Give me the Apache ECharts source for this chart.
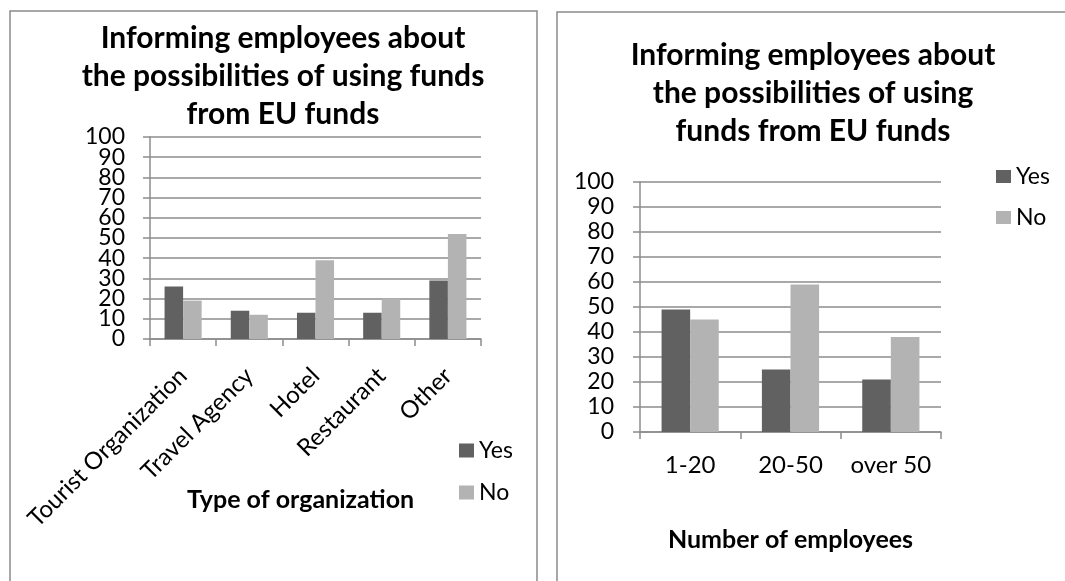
<!DOCTYPE html>
<html>
<head>
<meta charset="utf-8">
<script src="https://cdn.jsdelivr.net/npm/echarts@6/dist/echarts.min.js"></script>
<style>
html,body{margin:0;padding:0;background:#fff;}
#chart{width:1065px;height:581px;}
</style>
</head>
<body>
<div id="chart"></div>
<script>
// ---- data ----
const typeCategories = ['Tourist Organization', 'Travel Agency', 'Hotel', 'Restaurant', 'Other'];
const typeYes = [26, 14, 13, 13, 29];
const typeNo = [19, 12, 39, 20, 52];

const sizeCategories = ['1-20', '20-50', 'over 50'];
const sizeYes = [49, 25, 21];
const sizeNo = [45, 59, 38];

const seriesNames = ['Yes', 'No'];
const yMin = 0, yMax = 100, yStep = 10;

const titleLeft = 'Informing employees about\nthe possibilities of using funds\nfrom EU funds';
const titleRight = 'Informing employees about\nthe possibilities of using\nfunds from EU funds';
const xNameLeft = 'Type of organization';
const xNameRight = 'Number of employees';

// ---- styles ----
const FONT = 'Lato';
const GRID_COLOR = '#8c8c8c';
const YES_COLOR = '#616161';
const NO_COLOR = '#b3b3b3';

const labelText = { color: '#000', fontFamily: FONT, fontSize: 23 };

function yAxis(gridIndex, margin, formatter) {
  return {
    type: 'value', gridIndex, min: yMin, max: yMax, interval: yStep,
    axisLine: { show: true, lineStyle: { color: GRID_COLOR, width: 1.5 } },
    axisTick: { show: true, length: 7, lineStyle: { color: GRID_COLOR, width: 1.5 } },
    splitLine: { show: true, lineStyle: { color: GRID_COLOR, width: 1.5 } },
    axisLabel: Object.assign({ margin: margin, showMinLabel: true, showMaxLabel: true, hideOverlap: false,
      formatter: formatter }, labelText)
  };
}
// labels-only companion axis (left chart is tightly packed; split labels over two axes so none are dropped)
function yLabelAxis(gridIndex, margin, formatter) {
  return {
    type: 'value', gridIndex, min: yMin, max: yMax, interval: yStep, position: 'left',
    axisLine: { show: false }, axisTick: { show: false }, splitLine: { show: false },
    axisLabel: Object.assign({ margin: margin, showMinLabel: true, showMaxLabel: true, hideOverlap: false,
      formatter: formatter }, labelText)
  };
}
const evenTens = v => (v % (2 * yStep) === 0 ? String(v) : '');
const oddTens = v => (v % (2 * yStep) !== 0 ? String(v) : '');

const chart = echarts.init(document.getElementById('chart'), null, { renderer: 'canvas' });
chart.setOption({
  backgroundColor: '#fff',
  animation: false,
  textStyle: { fontFamily: FONT },
  graphic: [
    { type: 'rect', shape: { x: 10, y: 11, width: 527, height: 620 }, style: { fill: 'none', stroke: '#8a8a8a', lineWidth: 1.5 } },
    { type: 'rect', shape: { x: 557, y: 12, width: 560, height: 620 }, style: { fill: 'none', stroke: '#8a8a8a', lineWidth: 1.5 } }
  ],
  title: [
    { text: titleLeft, left: 278, top: 14, textAlign: 'center',
      textStyle: { fontFamily: FONT, fontWeight: 'bold', fontSize: 30, lineHeight: 38, color: '#000' } },
    { text: titleRight, left: 808, top: 31, textAlign: 'center',
      textStyle: { fontFamily: FONT, fontWeight: 'bold', fontSize: 30, lineHeight: 38, color: '#000' } }
  ],
  legend: [
    { data: seriesNames, orient: 'vertical', left: 454, top: 434, itemWidth: 15, itemHeight: 14, itemGap: 19,
      textStyle: { fontFamily: FONT, fontSize: 23, color: '#000' }, icon: 'rect' },
    { data: seriesNames, orient: 'vertical', left: 991, top: 160, itemWidth: 15, itemHeight: 13, itemGap: 18,
      textStyle: { fontFamily: FONT, fontSize: 23, color: '#000' }, icon: 'rect' }
  ],
  grid: [
    { left: 150, top: 137, width: 331, height: 202 },
    { left: 640, top: 182, width: 301, height: 250 }
  ],
  xAxis: [
    { type: 'category', gridIndex: 0, data: typeCategories,
      axisLine: { show: true, lineStyle: { color: GRID_COLOR, width: 1.5 } },
      axisTick: { show: true, length: 7, lineStyle: { color: GRID_COLOR, width: 1.5 } },
      axisLabel: { color: '#000', fontFamily: FONT, fontSize: 24, rotate: 45, margin: 33, interval: 0 },
      name: xNameLeft, nameLocation: 'middle', nameGap: 148, nameMoveOverlap: false,
      nameTextStyle: { fontFamily: FONT, fontWeight: 'bold', fontSize: 25, color: '#000', padding: [0, 30, 0, 0] } },
    { type: 'category', gridIndex: 1, data: sizeCategories,
      axisLine: { show: true, lineStyle: { color: GRID_COLOR, width: 1.5 } },
      axisTick: { show: true, length: 7, lineStyle: { color: GRID_COLOR, width: 1.5 } },
      axisLabel: { color: '#000', fontFamily: FONT, fontSize: 24, margin: 21, interval: 0 },
      name: xNameRight, nameLocation: 'middle', nameGap: 95, nameMoveOverlap: false,
      nameTextStyle: { fontFamily: FONT, fontWeight: 'bold', fontSize: 25, color: '#000' } }
  ],
  yAxis: [
    yAxis(0, 25, evenTens),
    yAxis(1, 26, v => String(v)),
    yLabelAxis(0, 25, oddTens)
  ],
  series: [
    { name: seriesNames[0], type: 'bar', xAxisIndex: 0, yAxisIndex: 0, data: typeYes,
      itemStyle: { color: YES_COLOR }, barGap: '0%', barCategoryGap: '44%' },
    { name: seriesNames[1], type: 'bar', xAxisIndex: 0, yAxisIndex: 0, data: typeNo,
      itemStyle: { color: NO_COLOR }, barGap: '0%', barCategoryGap: '44%' },
    { name: seriesNames[0], type: 'bar', xAxisIndex: 1, yAxisIndex: 1, data: sizeYes,
      itemStyle: { color: YES_COLOR }, barGap: '0%', barCategoryGap: '43%' },
    { name: seriesNames[1], type: 'bar', xAxisIndex: 1, yAxisIndex: 1, data: sizeNo,
      itemStyle: { color: NO_COLOR }, barGap: '0%', barCategoryGap: '43%' }
  ]
});
</script>
</body>
</html>
